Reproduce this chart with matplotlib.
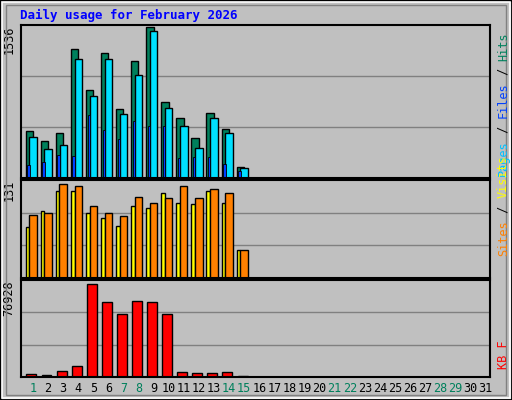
import matplotlib
matplotlib.use("Agg")
import matplotlib.pyplot as plt
from matplotlib.patches import Rectangle
import numpy as np

days = np.arange(1, 16)
hits = [473, 379, 452, 1307, 890, 1265, 702, 1192, 1536, 775, 608, 410, 660, 493, 108]
files = [420, 295, 337, 1213, 837, 1213, 650, 1046, 1494, 712, 525, 306, 608, 452, 97]
pages = [129, 160, 236, 222, 640, 487, 400, 577, 525, 525, 202, 215, 212, 139, 66]
visits = [88, 91, 131, 128, 100, 91, 86, 113, 105, 111, 128, 111, 124, 118, 39]
sites = [71, 94, 121, 122, 90, 84, 73, 101, 97, 118, 105, 103, 121, 104, 39]
kbytes = [2536, 1690, 5072, 9300, 76928, 62560, 52415, 63405, 62560, 52415, 4227, 3382, 3382, 4227, 845]
weekend = [1, 7, 8, 14, 15, 21, 22, 28, 29]

W, H = 512, 400
fig = plt.figure(figsize=(W / 100, H / 100), dpi=100)
fig.patch.set_facecolor('#c0c0c0')
mono = 'DejaVu Sans Mono'

# outer frame
fig.patches.append(Rectangle((0, 0), 1, 1, transform=fig.transFigure, fill=False,
                             edgecolor='black', linewidth=2))
fig.patches.append(Rectangle((2 / W, 2 / H), 1 - 4 / W, 1 - 4 / H, transform=fig.transFigure,
                             fill=False, edgecolor='white', linewidth=1.2))
fig.patches.append(Rectangle((6 / W, 5 / H), 1 - 12 / W, 1 - 10 / H, transform=fig.transFigure,
                             fill=False, edgecolor='#808080', linewidth=1))


def panel(top, bot):
    return fig.add_axes([21 / W, (H - bot) / H, 469 / W, (bot - top) / H])


def style(ax, ymax, label):
    ax.set_facecolor('#c0c0c0')
    ax.set_xlim(0.2, 31.3)
    ax.set_ylim(0, ymax)
    for f in (1 / 3, 2 / 3):
        ax.axhline(ymax * f, color='#808080', linewidth=1, zorder=0)
    ax.set_xticks([])
    ax.set_yticks([])
    for s in ax.spines.values():
        s.set_linewidth(1.5)
        s.set_color('black')
    ax.text(-0.012, 1.0, label, transform=ax.transAxes, rotation=90, ha='right', va='top',
            fontsize=8.5, family=mono)


def rlabel(bot, parts):
    # stack coloured words upward from pixel row `bot`
    step = 7.2
    y = bot
    for txt, col in parts:
        fig.text(497 / W, 1 - y / H, txt, rotation=90, ha='left', va='bottom',
                 fontsize=8.6, family=mono, color=col)
        y -= len(txt) * step


ax1 = panel(25, 178)
style(ax1, 1536 * 151.7 / 150, '1536')
ax1.bar(days - 0.255, hits, width=0.49, color='#00805c', edgecolor='black', linewidth=1)
ax1.bar(days + 0.0, files, width=0.49, color='#00e0ff', edgecolor='black', linewidth=1)
ax1.bar(days - 0.31, pages, width=0.15, color='#0040ff', edgecolor='black', linewidth=0.6)
rlabel(176, [('Pages', '#00c0ff'), (' / ', 'black'), ('Files', '#0040ff'),
             (' / ', 'black'), ('Hits', '#00805c')])

ax2 = panel(180, 278)
style(ax2, 131 * 289 / 277, '131')
ax2.bar(days - 0.375, sites, width=0.25, color='#ffff00', edgecolor='black', linewidth=1)
ax2.bar(days - 0.005, visits, width=0.49, color='#ff8000', edgecolor='black', linewidth=1)
rlabel(256, [('Sites', '#ff8000'), (' / ', 'black'), ('Visits', '#ffff00')])

ax3 = panel(280, 377)
style(ax3, 76928 * 286 / 273, '76928')
ax3.bar(days - 0.11, kbytes, width=0.66, color='#ff0000', edgecolor='black', linewidth=1)
rlabel(369, [('KB F', '#ff0000')])

for d in range(1, 32):
    x = 21 + (d - 0.2) * 469 / 31.1
    fig.text(x / W, 1 - 389 / H, str(d), ha='center', va='center', fontsize=8.5, family=mono,
             color='#00805c' if d in weekend else 'black')

fig.text(20 / W, 1 - 15 / H, 'Daily usage for February 2026', ha='left', va='center',
         fontsize=9, family=mono, weight='bold', color='#0000ff')

fig.savefig('out.png', dpi=100, facecolor=fig.get_facecolor())
